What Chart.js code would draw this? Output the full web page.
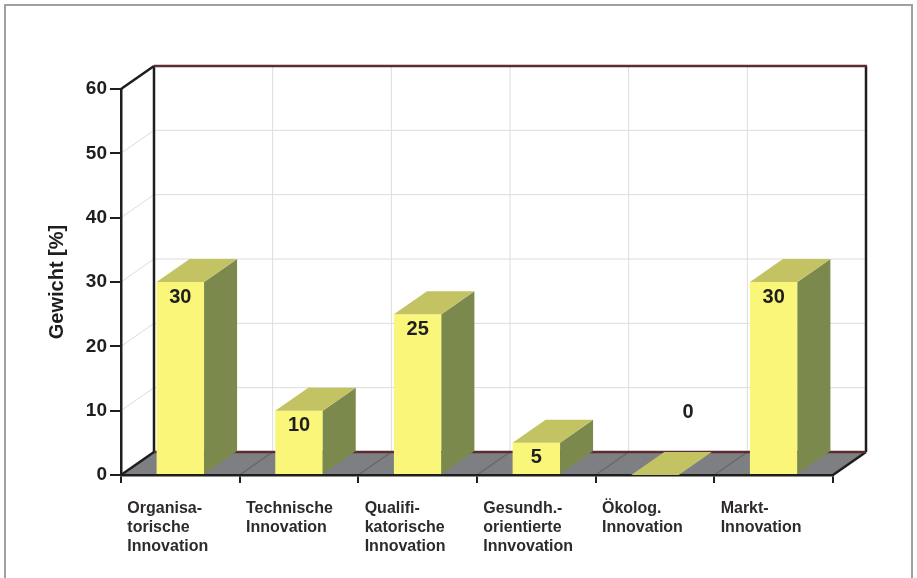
<!DOCTYPE html>
<html>
<head>
<meta charset="utf-8">
<script src="https://cdn.jsdelivr.net/npm/chart.js@4.4.1/dist/chart.umd.min.js"></script>
<style>
  html, body { margin: 0; padding: 0; background: #fff; }
</style>
</head>
<body>
<canvas id="gewichtChart" width="917" height="578"></canvas>
<script>
// Daten
const kategorien = [
    ['Organisa-', 'torische', 'Innovation'],
    ['Technische', 'Innovation'],
    ['Qualifi-', 'katorische', 'Innovation'],
    ['Gesundh.-', 'orientierte', 'Innvovation'],
    ['Ökolog.', 'Innovation'],
    ['Markt-', 'Innovation']
];
const gewichte = [30, 10, 25, 5, 0, 30];
const yTicks = [0, 10, 20, 30, 40, 50, 60];
const yAchsenTitel = 'Gewicht [%]';

// 3D-Tiefe (Versatz der Rückwand)
const TIEFE_X = 33;
const TIEFE_Y = -23;
const FARBEN = {
    front: '#f9f67a',
    top: '#c3c364',
    side: '#7c894c',
    floor: '#7e7f83',
    floorLine: '#66676b',
    wallGrid: '#dcdcdc',
    frame: '#1e1e1e',
    backLine: '#5c2c2e',
    text: '#1e1e1e'
};
const schrift = 'Liberation Sans, Arial, sans-serif';

function linie(ctx, x1, y1, x2, y2) {
    ctx.beginPath();
    ctx.moveTo(x1, y1);
    ctx.lineTo(x2, y2);
    ctx.stroke();
}

const pseudo3D = {
    id: 'pseudo3D',
    beforeDraw(chart) {
        const { ctx, chartArea: a, scales: { x, y } } = chart;
        const catW = x.getPixelForValue(1) - x.getPixelForValue(0);
        ctx.save();

        // äußerer Rahmen
        ctx.strokeStyle = '#a0a0a0';
        ctx.lineWidth = 2;
        ctx.strokeRect(5, 5, 907, 580);

        // Boden
        ctx.fillStyle = FARBEN.floor;
        ctx.beginPath();
        ctx.moveTo(a.left, a.bottom);
        ctx.lineTo(a.right, a.bottom);
        ctx.lineTo(a.right + TIEFE_X, a.bottom + TIEFE_Y);
        ctx.lineTo(a.left + TIEFE_X, a.bottom + TIEFE_Y);
        ctx.closePath();
        ctx.fill();
        ctx.strokeStyle = FARBEN.floorLine;
        ctx.lineWidth = 1.5;
        for (let i = 1; i < kategorien.length; i++) {
            const bx = x.getPixelForValue(i) - catW / 2;
            linie(ctx, bx, a.bottom, bx + TIEFE_X, a.bottom + TIEFE_Y);
        }

        // Gitter auf Rück- und Seitenwand
        ctx.strokeStyle = FARBEN.wallGrid;
        ctx.lineWidth = 1;
        yTicks.forEach(t => {
            if (t === 0 || t === 60) return;
            const py = y.getPixelForValue(t);
            linie(ctx, a.left + TIEFE_X, py + TIEFE_Y, a.right + TIEFE_X, py + TIEFE_Y);
            linie(ctx, a.left, py, a.left + TIEFE_X, py + TIEFE_Y);
        });
        for (let i = 1; i < kategorien.length; i++) {
            const bx = x.getPixelForValue(i) - catW / 2 + TIEFE_X;
            linie(ctx, bx, a.top + TIEFE_Y, bx, a.bottom + TIEFE_Y);
        }

        // Rahmenlinien
        ctx.strokeStyle = FARBEN.frame;
        ctx.lineWidth = 2.5;
        linie(ctx, a.left, a.top, a.left + TIEFE_X, a.top + TIEFE_Y);
        linie(ctx, a.left + TIEFE_X, a.top + TIEFE_Y, a.left + TIEFE_X, a.bottom + TIEFE_Y);
        linie(ctx, a.right + TIEFE_X, a.top + TIEFE_Y, a.right + TIEFE_X, a.bottom + TIEFE_Y);
        linie(ctx, a.left, a.bottom, a.left + TIEFE_X, a.bottom + TIEFE_Y);
        linie(ctx, a.right, a.bottom, a.right + TIEFE_X, a.bottom + TIEFE_Y);
        ctx.strokeStyle = FARBEN.backLine;
        linie(ctx, a.left + TIEFE_X, a.top + TIEFE_Y, a.right + TIEFE_X + 1, a.top + TIEFE_Y);
        linie(ctx, a.left + TIEFE_X, a.bottom + TIEFE_Y, a.right + TIEFE_X, a.bottom + TIEFE_Y);
        ctx.restore();
    },
    afterDatasetsDraw(chart) {
        const { ctx, scales: { y } } = chart;
        const meta = chart.getDatasetMeta(0);
        ctx.save();
        meta.data.forEach((bar, i) => {
            const { x: cx, y: top, base, width } = bar.getProps(['x', 'y', 'base', 'width'], true);
            const l = cx - width / 2, r = cx + width / 2;
            // Seitenfläche
            if (base - top > 0.5) {
                ctx.fillStyle = FARBEN.side;
                ctx.beginPath();
                ctx.moveTo(r, top);
                ctx.lineTo(r + TIEFE_X, top + TIEFE_Y);
                ctx.lineTo(r + TIEFE_X, base + TIEFE_Y);
                ctx.lineTo(r, base);
                ctx.closePath();
                ctx.fill();
            }
            // Deckfläche
            ctx.fillStyle = FARBEN.top;
            ctx.beginPath();
            ctx.moveTo(l, top);
            ctx.lineTo(r, top);
            ctx.lineTo(r + TIEFE_X, top + TIEFE_Y);
            ctx.lineTo(l + TIEFE_X, top + TIEFE_Y);
            ctx.closePath();
            ctx.fill();

            // Wertbeschriftung
            ctx.fillStyle = FARBEN.text;
            ctx.font = 'bold 20px ' + schrift;
            ctx.textAlign = 'center';
            ctx.textBaseline = 'middle';
            if (gewichte[i] === 0) {
                ctx.fillText(String(gewichte[i]), cx + TIEFE_X, y.getPixelForValue(10) + 2);
            } else {
                ctx.fillText(String(gewichte[i]), cx, top + 15);
            }
        });
        ctx.restore();
    }
};

const ctx = document.getElementById('gewichtChart').getContext('2d');
new Chart(ctx, {
    type: 'bar',
    data: {
        labels: kategorien,
        datasets: [{
            data: gewichte,
            backgroundColor: FARBEN.front,
            borderWidth: 0,
            barPercentage: 0.8,
            categoryPercentage: 0.5
        }]
    },
    options: {
        responsive: false,
        animation: false,
        layout: { padding: { left: 0, top: 89, right: 84, bottom: 0 } },
        plugins: { legend: { display: false }, tooltip: { enabled: false } },
        scales: {
            x: {
                grid: { drawOnChartArea: false, tickLength: 8, color: FARBEN.frame, lineWidth: 2 },
                border: { color: FARBEN.frame, width: 2.5 },
                ticks: {
                    align: 'start', labelOffset: -53, padding: 16,
                    autoSkip: false, maxRotation: 0, color: '#2e2a2a',
                    font: { family: schrift, weight: 'bold', size: 16, lineHeight: 1.19 }
                },
                afterFit(s) { s.height = 103; }
            },
            y: {
                min: 0, max: 60,
                afterBuildTicks(s) { s.ticks = yTicks.map(v => ({ value: v })); },
                ticks: { padding: 3, color: FARBEN.text, font: { family: schrift, weight: 'bold', size: 19 } },
                grid: { drawOnChartArea: false, tickLength: 11, color: FARBEN.frame, lineWidth: 2 },
                border: { color: FARBEN.frame, width: 2.5 },
                title: {
                    display: true, text: yAchsenTitel, color: FARBEN.text,
                    padding: { top: 45, bottom: 0 },
                    font: { family: schrift, weight: 'bold', size: 20 }
                },
                afterFit(s) { s.width = 121; }
            }
        }
    },
    plugins: [pseudo3D]
});
</script>
</body>
</html>
